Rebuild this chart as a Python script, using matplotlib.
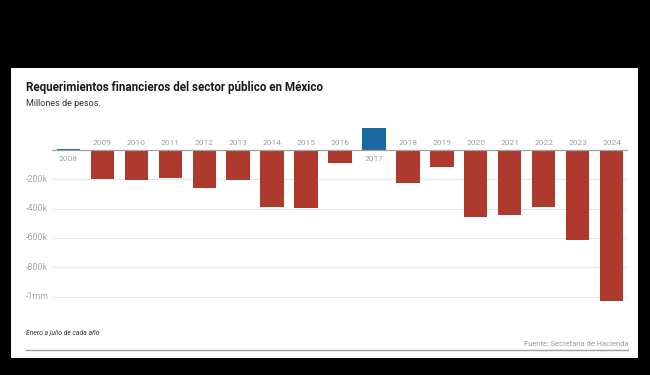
import matplotlib
matplotlib.use("Agg")
import matplotlib.pyplot as plt
from matplotlib.patches import Rectangle
from matplotlib.lines import Line2D
import matplotlib.transforms as mtransforms

years = ["2008", "2009", "2010", "2011", "2012", "2013", "2014", "2015", "2016",
         "2017", "2018", "2019", "2020", "2021", "2022", "2023", "2024"]
values_k = [10, -200, -205, -189, -262, -205, -387, -398, -91,
            148, -223, -118, -460, -441, -391, -614, -1033]
grid_vals_k = [-200, -400, -600, -800, -1000]
grid_labels = ["-200k", "-400k", "-600k", "-800k", "-1mm"]

title = "Requerimientos financieros del sector público en México"
subtitle = "Millones de pesos."
note = "Enero a julio de cada año"
source = "Fuente: Secretaría de Hacienda"

RED = "#ad3a2c"
BLUE = "#1b69a0"
W, H = 650, 375
FONT = ["Roboto", "DejaVu Sans"]

fig = plt.figure(figsize=(6.5, 3.75), dpi=100)
fig.patch.set_facecolor("black")

def fx(px):
    return px / W

def fy(py):
    return 1 - py / H

# white card
card = Rectangle((fx(11), fy(358)), fx(638) - fx(11), fy(68) - fy(358),
                 transform=fig.transFigure, facecolor="white",
                 edgecolor="none", zorder=-10)
fig.patches.append(card)

ax = fig.add_axes([fx(52), fy(310), fx(628) - fx(52), fy(120) - fy(310)], zorder=5)
ax.set_facecolor("none")
ax.set_xlim(-0.48, len(years) - 1 + 0.48)
ax.set_ylim(-1092, 205)
for s in ax.spines.values():
    s.set_visible(False)
ax.set_xticks([])
ax.set_yticks([])

for g in grid_vals_k:
    ax.axhline(g, color="#e6e6e6", lw=0.8, zorder=1)
ax.axhline(0, color="#a0a0a0", lw=0.9, zorder=3)

xs = list(range(len(years)))
colors = [BLUE if v > 0 else RED for v in values_k]
ax.bar(xs, values_k, width=0.686, color=colors, zorder=2)

for x, y, v in zip(xs, years, values_k):
    if v < 0:
        ax.annotate(y, (x, 0), xytext=(0, 3), textcoords="offset points",
                    ha="center", va="bottom", fontsize=6.0, color="#a0a0a0",
                    family=FONT)
    else:
        ax.annotate(y, (x, 0), xytext=(0, -4), textcoords="offset points",
                    ha="center", va="top", fontsize=6.0, color="#a0a0a0",
                    family=FONT)

tr = mtransforms.blended_transform_factory(fig.transFigure, ax.transData)
for g, lab in zip(grid_vals_k, grid_labels):
    fig.text(fx(26), g, lab, transform=tr, ha="left", va="center",
             fontsize=6.4, color="#a8a8a8", family=FONT)

fig.text(fx(26), fy(88), title, ha="left", va="center", fontsize=8.4,
         fontweight="bold", color="#1a1a1a", family=FONT)
fig.text(fx(26), fy(103), subtitle, ha="left", va="center", fontsize=6.5,
         color="#333333", family=FONT)
fig.text(fx(26), fy(333), note, ha="left", va="center", fontsize=4.9,
         style="italic", color="#333333", family=FONT)
fig.text(fx(628), fy(345), source, ha="right", va="center", fontsize=5.4,
         color="#9a9a9a", family=FONT)
fig.lines.append(Line2D([fx(26), fx(628)], [fy(350), fy(350)],
                        transform=fig.transFigure, color="#a0a0a0", lw=1.0))

fig.savefig("out.png", dpi=100, facecolor=fig.get_facecolor())
